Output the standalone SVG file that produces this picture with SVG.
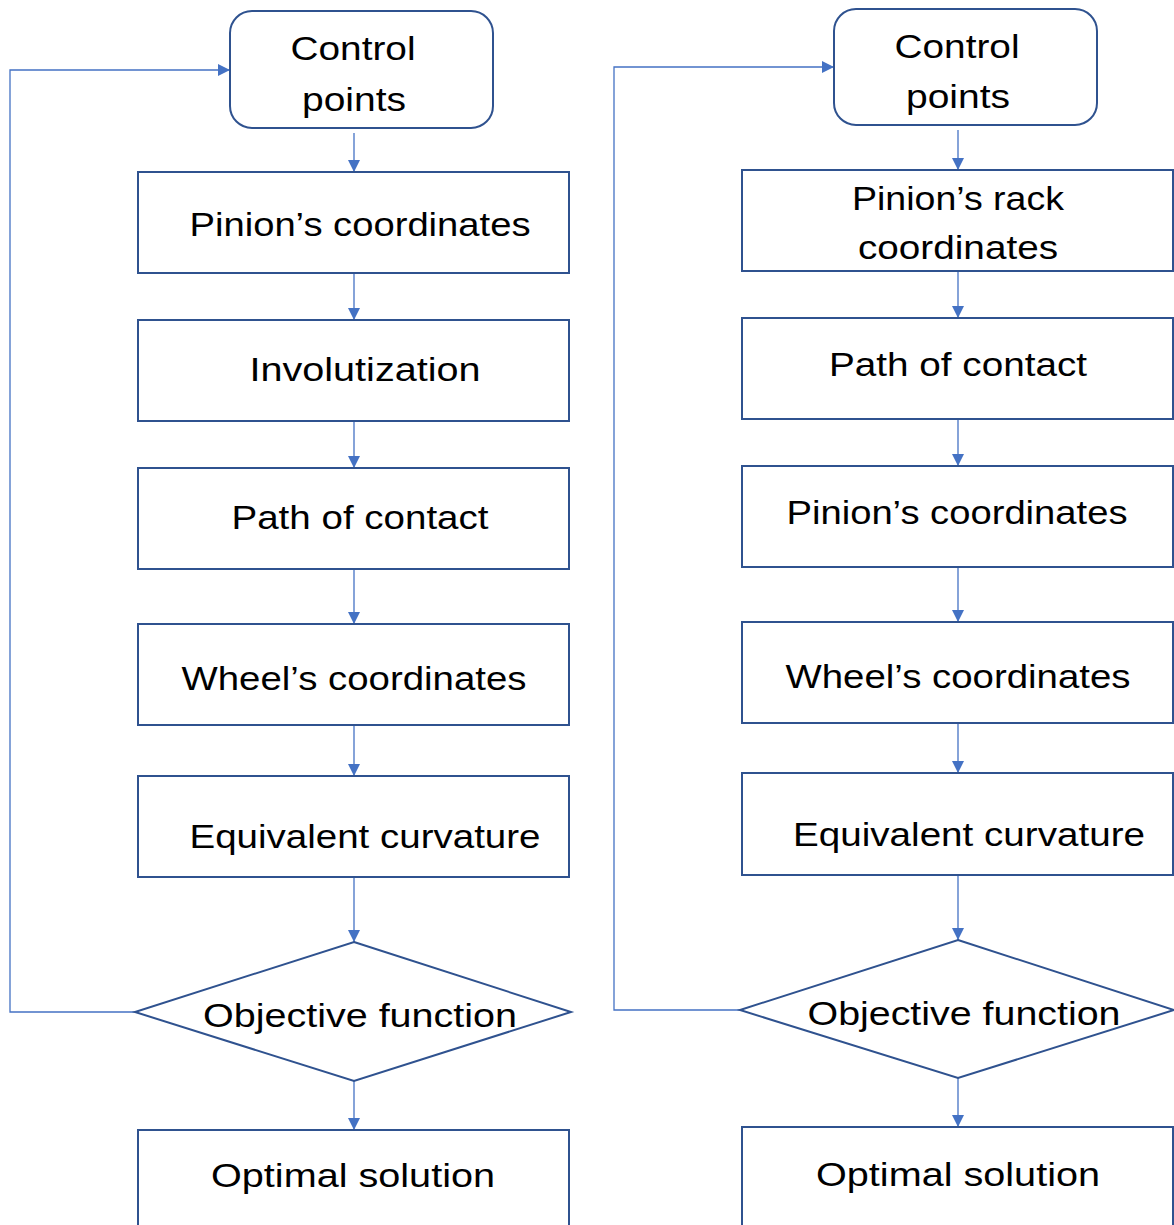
<svg xmlns="http://www.w3.org/2000/svg" width="1174" height="1225" viewBox="0 0 1174 1225">
<style>
.box{fill:#fff;stroke:#2F528F;stroke-width:2}
.con{fill:none;stroke:#4472C4;stroke-width:1.3}
text{font-family:"Liberation Sans",Arial,sans-serif;font-size:34px;fill:#000;text-anchor:middle}
</style>
<defs>
<marker id="ah" markerWidth="12" markerHeight="12" viewBox="0 0 12 12" refX="12" refY="6" orient="auto" markerUnits="userSpaceOnUse">
<path d="M0,0 L12,6 L0,12 Z" fill="#4472C4"/>
</marker>
</defs>
<rect width="1174" height="1225" fill="#fff"/>
<g id="connectors">
<line class="con" x1="354" y1="133" x2="354" y2="172" marker-end="url(#ah)"/>
<line class="con" x1="354" y1="273" x2="354" y2="320" marker-end="url(#ah)"/>
<line class="con" x1="354" y1="421" x2="354" y2="468" marker-end="url(#ah)"/>
<line class="con" x1="354" y1="569" x2="354" y2="624" marker-end="url(#ah)"/>
<line class="con" x1="354" y1="725" x2="354" y2="776" marker-end="url(#ah)"/>
<line class="con" x1="354" y1="877" x2="354" y2="942" marker-end="url(#ah)"/>
<line class="con" x1="354" y1="1081" x2="354" y2="1130" marker-end="url(#ah)"/>
<polyline class="con" points="135,1012 10,1012 10,70 230,70" marker-end="url(#ah)"/>
<line class="con" x1="958" y1="130" x2="958" y2="170" marker-end="url(#ah)"/>
<line class="con" x1="958" y1="271" x2="958" y2="318" marker-end="url(#ah)"/>
<line class="con" x1="958" y1="419" x2="958" y2="466" marker-end="url(#ah)"/>
<line class="con" x1="958" y1="567" x2="958" y2="622" marker-end="url(#ah)"/>
<line class="con" x1="958" y1="723" x2="958" y2="773" marker-end="url(#ah)"/>
<line class="con" x1="958" y1="875" x2="958" y2="940" marker-end="url(#ah)"/>
<line class="con" x1="958" y1="1078" x2="958" y2="1127" marker-end="url(#ah)"/>
<polyline class="con" points="740,1010 614,1010 614,67 834,67" marker-end="url(#ah)"/>
</g>
<g id="L-control">
<rect class="box" x="230" y="11" width="263" height="117" rx="22"/>
<text x="353" y="60" textLength="125" lengthAdjust="spacingAndGlyphs">Control</text>
<text x="354" y="111" textLength="104" lengthAdjust="spacingAndGlyphs">points</text>
</g>
<g id="L-pinion">
<rect class="box" x="138" y="172" width="431" height="101"/>
<text x="360" y="236" textLength="341" lengthAdjust="spacingAndGlyphs">Pinion’s coordinates</text>
</g>
<g id="L-involutization">
<rect class="box" x="138" y="320" width="431" height="101"/>
<text x="365" y="381" textLength="231" lengthAdjust="spacingAndGlyphs">Involutization</text>
</g>
<g id="L-path">
<rect class="box" x="138" y="468" width="431" height="101"/>
<text x="360" y="529" textLength="257" lengthAdjust="spacingAndGlyphs">Path of contact</text>
</g>
<g id="L-wheel">
<rect class="box" x="138" y="624" width="431" height="101"/>
<text x="354" y="690" textLength="345" lengthAdjust="spacingAndGlyphs">Wheel’s coordinates</text>
</g>
<g id="L-curvature">
<rect class="box" x="138" y="776" width="431" height="101"/>
<text x="365" y="848" textLength="351" lengthAdjust="spacingAndGlyphs">Equivalent curvature</text>
</g>
<g id="L-objective">
<polygon class="box" points="354,942 571,1012 354,1081 135,1012"/>
<text x="360" y="1027" textLength="314" lengthAdjust="spacingAndGlyphs">Objective function</text>
</g>
<g id="L-optimal">
<rect class="box" x="138" y="1130" width="431" height="110"/>
<text x="353" y="1187" textLength="284" lengthAdjust="spacingAndGlyphs">Optimal solution</text>
</g>
<g id="R-control">
<rect class="box" x="834" y="9" width="263" height="116" rx="22"/>
<text x="957" y="58" textLength="125" lengthAdjust="spacingAndGlyphs">Control</text>
<text x="958" y="108" textLength="104" lengthAdjust="spacingAndGlyphs">points</text>
</g>
<g id="R-rack">
<rect class="box" x="742" y="170" width="431" height="101"/>
<text x="958" y="210" textLength="212" lengthAdjust="spacingAndGlyphs">Pinion’s rack</text>
<text x="958" y="259" textLength="200" lengthAdjust="spacingAndGlyphs">coordinates</text>
</g>
<g id="R-path">
<rect class="box" x="742" y="318" width="431" height="101"/>
<text x="958" y="376" textLength="258" lengthAdjust="spacingAndGlyphs">Path of contact</text>
</g>
<g id="R-pinion">
<rect class="box" x="742" y="466" width="431" height="101"/>
<text x="957" y="524" textLength="341" lengthAdjust="spacingAndGlyphs">Pinion’s coordinates</text>
</g>
<g id="R-wheel">
<rect class="box" x="742" y="622" width="431" height="101"/>
<text x="958" y="688" textLength="345" lengthAdjust="spacingAndGlyphs">Wheel’s coordinates</text>
</g>
<g id="R-curvature">
<rect class="box" x="742" y="773" width="431" height="102"/>
<text x="969" y="846" textLength="352" lengthAdjust="spacingAndGlyphs">Equivalent curvature</text>
</g>
<g id="R-objective">
<polygon class="box" points="958,940 1174,1010 958,1078 740,1010"/>
<text x="964" y="1025" textLength="313" lengthAdjust="spacingAndGlyphs">Objective function</text>
</g>
<g id="R-optimal">
<rect class="box" x="742" y="1127" width="431" height="110"/>
<text x="958" y="1186" textLength="284" lengthAdjust="spacingAndGlyphs">Optimal solution</text>
</g>
</svg>
